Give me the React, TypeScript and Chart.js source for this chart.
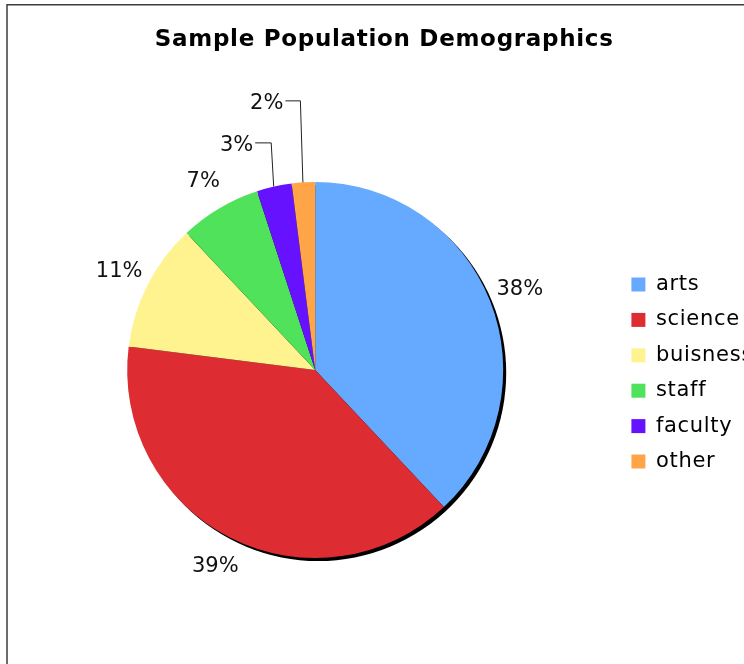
import React, { useEffect, useRef } from "react";
import { Chart, PieController, ArcElement, Legend, Title } from "chart.js";

Chart.register(PieController, ArcElement, Legend, Title);

// Share of the sample population, in percent
const categories = ["arts", "science", "buisness", "staff", "faculty", "other"];
const shares = [38, 39, 11, 7, 3, 2];
const sliceColors = ["#66aaff", "#dd2d33", "#fff38f", "#4fe25a", "#6612ff", "#ffa547"];

const FONT = "'DejaVu Sans', Verdana, sans-serif";

// Thin frame around the chart area (top and left edges are visible);
// also sets the slightly open tracking used by the title and legend text.
const chartFrame = {
  id: "chartFrame",
  beforeDraw(chart: any) {
    const { ctx, width, height } = chart;
    ctx.save();
    ctx.strokeStyle = "#3c3c3c";
    ctx.lineWidth = 1.5;
    ctx.beginPath();
    ctx.moveTo(7, height);
    ctx.lineTo(7, 4.75);
    ctx.lineTo(width, 4.75);
    ctx.stroke();
    ctx.restore();
    ctx.letterSpacing = "0.7px";
  },
  beforeDatasetsDraw(chart: any) {
    chart.ctx.letterSpacing = "0px";
  },
};

// Solid drop shadow behind the pie
const pieShadow = {
  id: "pieShadow",
  beforeDatasetsDraw(chart: any, _args: any, opts: any) {
    const arc = chart.getDatasetMeta(0).data[0];
    if (!arc) return;
    const { x, y, outerRadius } = arc.getProps(["x", "y", "outerRadius"], true);
    const { ctx } = chart;
    ctx.save();
    ctx.fillStyle = opts.color || "#000";
    ctx.beginPath();
    ctx.arc(x + opts.dx, y + opts.dy, outerRadius, 0, Math.PI * 2);
    ctx.fill();
    ctx.restore();
  },
};

// Percentage labels outside each slice; small slices get a leader line
const sliceLabels = {
  id: "sliceLabels",
  afterDatasetsDraw(chart: any, _args: any, opts: any) {
    const { ctx } = chart;
    const meta = chart.getDatasetMeta(0);
    const values = chart.data.datasets[0].data as number[];
    const total = values.reduce((a, b) => a + b, 0);
    ctx.save();
    ctx.letterSpacing = "0px";
    ctx.font = `${opts.size}px ${FONT}`;
    ctx.fillStyle = opts.color;
    ctx.strokeStyle = opts.lineColor;
    ctx.lineWidth = 1;
    ctx.textAlign = "center";
    ctx.textBaseline = "middle";
    meta.data.forEach((arc: any, i: number) => {
      const { x, y, startAngle, endAngle, outerRadius } = arc.getProps(
        ["x", "y", "startAngle", "endAngle", "outerRadius"],
        true
      );
      const mid = (startAngle + endAngle) / 2;
      const text = Math.round((values[i] / total) * 100) + "%";
      const callout = opts.callouts[chart.data.labels[i]];
      if (!callout) {
        const d = outerRadius + opts.gap;
        ctx.fillText(text, x + d * Math.cos(mid), y + d * Math.sin(mid) + 1);
        return;
      }
      const a = mid + (callout.turn * Math.PI) / 180;
      const d = outerRadius + callout.distance;
      const lx = x + d * Math.cos(a);
      const ly = y + d * Math.sin(a);
      ctx.fillText(text, lx, ly);
      const w = ctx.measureText(text).width;
      const ex = x + outerRadius * Math.cos(mid);
      const ey = y + outerRadius * Math.sin(mid);
      ctx.beginPath();
      ctx.moveTo(lx + w / 2 + 2, ly - 2.5);
      ctx.lineTo(ex - 3, ly - 2.5);
      ctx.lineTo(ex - 0.5, ey);
      ctx.stroke();
    });
    ctx.restore();
  },
};

export default function App() {
  const canvasRef = useRef<HTMLCanvasElement | null>(null);

  useEffect(() => {
    const canvas = canvasRef.current;
    if (!canvas) return;
    const chart = new Chart(canvas, {
      type: "pie",
      data: {
        labels: categories,
        datasets: [
          {
            data: shares,
            backgroundColor: sliceColors,
            borderWidth: 0,
            radius: 188,
          } as any,
        ],
      },
      options: {
        responsive: false,
        animation: false,
        devicePixelRatio: 1,
        layout: { padding: { left: 13.4, right: 0, top: 0, bottom: 10 } },
        plugins: {
          title: {
            display: true,
            text: "Sample Population Demographics",
            color: "#000",
            font: { family: FONT, size: 23, weight: "bold" },
            padding: { top: 26.2, bottom: 16.2 },
          },
          legend: {
            position: "right",
            fullSize: false,
            maxWidth: 138,
            // empty spacer title nudges the centred entries slightly down
            title: { display: true, text: "", font: { size: 5 }, padding: 0 },
            labels: {
              boxWidth: 14,
              boxHeight: 14,
              padding: 14.4,
              color: "#000",
              font: { family: FONT, size: 21 },
            },
          },
          tooltip: { enabled: false },
          pieShadow: { dx: 3, dy: 3, color: "#000" },
          sliceLabels: {
            size: 21,
            color: "#111",
            lineColor: "#222",
            gap: 32,
            callouts: {
              faculty: { distance: 50, turn: -6.7 },
              other: { distance: 83, turn: -6.7 },
            },
          },
        } as any,
      },
      plugins: [chartFrame, pieShadow, sliceLabels],
    });
    return () => chart.destroy();
  }, []);

  return (
    <div
      style={{
        position: "absolute",
        left: 0,
        top: 0,
        width: 744,
        height: 664,
        overflow: "hidden",
        background: "#fff",
      }}
    >
      <canvas
        ref={canvasRef}
        width={755}
        height={680}
        style={{ width: 755, height: 680, display: "block" }}
      />
    </div>
  );
}
